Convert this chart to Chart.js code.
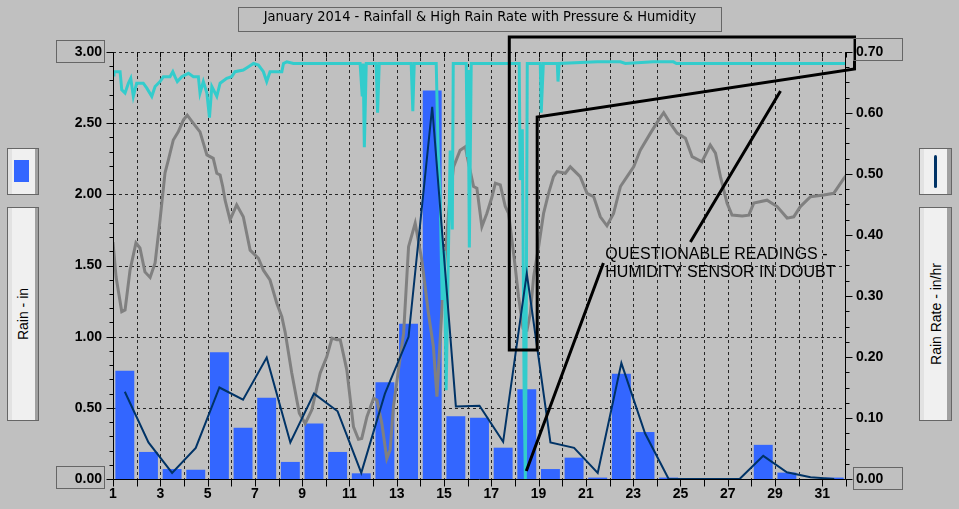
<!DOCTYPE html>
<html>
<head>
<meta charset="utf-8">
<title>January 2014 - Rainfall & High Rain Rate with Pressure & Humidity</title>
<script src="https://cdn.jsdelivr.net/npm/chart.js@4.4.0/dist/chart.umd.min.js"></script>
<style>
  html, body { margin: 0; padding: 0; background: #c0c0c0; overflow: hidden; }
  #wrap { position: relative; width: 959px; height: 509px; }
  #myChart { position: absolute; left: 0; top: 0; }
  .box { position: absolute; box-sizing: border-box; border: 1px solid #666; }
  .title { left: 238px; top: 7px; width: 484px; height: 25px; text-align: center; line-height: 23px;
           font: 14.5px "Liberation Sans Narrow", "DejaVu Sans Condensed", sans-serif; color: #000; }
  .panel { background: linear-gradient(to right, #e2e2e2 0 4px, #f0f0f0 4px 27px, #a0a0a0 27px); }
  .vlabel { position: absolute; left: 50%; top: 50%; transform: translate(-50%, -50%) rotate(-90deg);
            white-space: nowrap; font: 14px "Liberation Sans", Arial, sans-serif; color: #000; }
</style>
</head>
<body>
<div id="wrap">
  <canvas id="myChart" width="959" height="509"></canvas>
  <div class="box title">January 2014 - Rainfall &amp; High Rain Rate with Pressure &amp; Humidity</div>

  <div class="box panel" style="left:7px;top:148px;width:32px;height:47px;">
    <div style="position:absolute;left:6px;top:11px;width:15px;height:22px;background:#3366ff;"></div>
  </div>
  <div class="box panel" style="left:7px;top:207px;width:32px;height:214px;"><div class="vlabel">Rain - in</div></div>

  <div class="box panel" style="left:919px;top:148px;width:33px;height:47px;">
    <div style="position:absolute;left:14px;top:6px;width:3px;height:33px;border-radius:2px;background:#003366;"></div>
  </div>
  <div class="box panel" style="left:919px;top:207px;width:33px;height:214px;"><div class="vlabel">Rain Rate - in/hr</div></div>

  <div class="box" style="left:56px;top:40px;width:49px;height:23px;"></div>
  <div class="box" style="left:56px;top:466px;width:49px;height:23px;"></div>
  <div class="box" style="left:853px;top:38px;width:50px;height:23px;"></div>
  <div class="box" style="left:853px;top:467px;width:50px;height:23px;"></div>
</div>
<script>
// daily rainfall (in) and daily high rain rate (in/hr)
const days = [1,2,3,4,5,6,7,8,9,10,11,12,13,14,15,16,17,18,19,20,21,22,23,24,25,26,27,28,29,30,31];
const rain = [0.76,0.19,0.07,0.065,0.89,0.36,0.57,0.12,0.39,0.19,0.04,0.68,1.09,2.73,0.44,0.43,
              0.22,0.63,0.07,0.15,0.01,0.74,0.33,0.01,0,0,0,0.24,0.045,0,0.01];
const rainRate = [0.143,0.060,0.010,0.051,0.150,0.130,0.199,0.060,0.140,0.111,0.010,0.140,0.233,0.610,0.119,0.120,
                  0.061,0.337,0.060,0.051,0.010,0.190,0.075,0,0,0,0,0.038,0.011,0.003,0];

// humidity (%) as [day, value]
const humidity = [[1.0,55.5],[1.13,47.3],[1.37,39.2],[1.51,39.6],[1.72,48.9],[1.97,55.3],[2.14,54.1],[2.35,48.5],
  [2.57,47.2],[2.78,50.6],[2.99,60.7],[3.20,71.7],[3.34,74.7],[3.55,79.4],[3.76,81.3],[3.98,84.1],[4.14,85.2],
  [4.40,83.3],[4.68,81.3],[4.97,75.9],[5.24,75.1],[5.39,71.6],[5.53,71.2],[5.64,68.5],[5.74,65.3],[5.95,60.7],
  [6.23,64.2],[6.51,61.4],[6.80,53.6],[7.15,51.7],[7.36,48.9],[7.64,46.6],[7.93,41.1],[8.14,38.0],[8.28,34.4],
  [8.56,24.8],[8.88,15.4],[9.13,13.0],[9.41,16.2],[9.76,24.8],[10.04,28.6],[10.26,33.0],[10.47,32.6],[10.61,32.6],
  [10.89,25.5],[11.17,12.2],[11.38,9.3],[11.52,9.5],[11.74,14.6],[12.02,18.9],[12.16,18.5],[12.37,13.0],[12.58,4.8],
  [12.72,6.8],[12.86,16.9],[13.07,25.5],[13.29,34.1],[13.50,54.4],[13.78,59.9],[14.06,51.3],[14.34,38.8],[14.55,31.0],
  [14.70,19.3],[14.98,46.6],[15.19,62.2],[15.40,73.1],[15.68,77.0],[15.90,77.8],[16.04,73.9],[16.25,68.5],[16.39,68.1],
  [16.60,59.1],[16.81,62.2],[17.03,66.1],[17.17,69.3],[17.38,68.9],[17.59,63.8],[17.73,62.2],[17.87,56.0],[18.01,49.7],
  [18.15,42.7],[18.34,35.3],[18.51,34.9],[18.65,38.8],[18.79,47.4],[19.00,54.4],[19.21,62.2],[19.42,66.9],[19.63,70.8],
  [19.78,72.0],[20.13,71.6],[20.34,73.1],[20.76,70.8],[21.05,66.9],[21.33,66.1],[21.61,61.4],[21.89,59.3],[22.17,62.2],
  [22.46,68.5],[22.74,70.8],[23.02,73.1],[23.30,77.0],[23.73,81.0],[24.08,84.1],[24.29,85.8],[24.57,83.3],[24.86,81.0],
  [25.21,79.8],[25.49,75.5],[25.91,74.3],[26.26,78.2],[26.48,76.3],[26.69,70.8],[26.97,64.6],[27.18,61.8],[27.61,61.6],
  [27.89,61.8],[28.10,64.6],[28.66,65.3],[29.09,63.8],[29.51,61.1],[29.79,61.4],[30.07,63.8],[30.50,66.1],[31.06,66.5],
  [31.48,66.9],[31.91,70.4],[32.0,71.0]];

// barometric pressure (inHg) as [day, value]
const pressure = [[1.0,30.46],[1.04,30.48],[1.30,30.48],[1.37,30.37],[1.51,30.35],[1.65,30.41],[1.75,30.44],[1.86,30.33],
  [2.00,30.41],[2.28,30.41],[2.43,30.38],[2.64,30.33],[2.78,30.39],[2.99,30.42],[3.13,30.45],[3.41,30.45],[3.53,30.48],
  [3.62,30.45],[3.72,30.42],[3.91,30.45],[4.19,30.47],[4.40,30.45],[4.61,30.45],[4.68,30.35],[4.82,30.42],[4.97,30.35],
  [5.08,30.20],[5.18,30.39],[5.39,30.33],[5.53,30.41],[5.81,30.44],[6.02,30.45],[6.16,30.48],[6.51,30.49],[6.73,30.51],
  [6.94,30.53],[7.15,30.52],[7.36,30.48],[7.50,30.42],[7.64,30.48],[8.14,30.48],[8.21,30.53],[8.35,30.54],[8.63,30.53],
  [11.45,30.53],[11.54,30.33],[11.58,30.53],[11.63,30.02],[11.71,30.53],[12.13,30.53],[12.19,30.23],[12.26,30.53],
  [13.61,30.53],[13.68,30.24],[13.74,30.53],[14.67,30.53],[14.75,30.00],[14.84,29.70],[14.92,29.09],[15.01,29.39],
  [15.09,28.54],[15.18,29.33],[15.26,30.00],[15.35,29.52],[15.39,30.53],[15.94,30.53],[15.98,29.96],[16.02,30.49],
  [16.07,29.41],[16.15,30.53],[18.18,30.53],[18.22,29.82],[18.31,30.13],[18.39,28.48],[18.44,28.00],[18.48,29.09],
  [18.52,30.53],[19.07,30.53],[19.11,30.23],[19.20,30.53],[19.79,30.53],[19.82,30.42],[19.87,30.53],[21.48,30.54],
  [22.46,30.54],[22.67,30.53],[23.85,30.54],[24.70,30.54],[24.83,30.53],[32.0,30.53]];

const dayTicks = [1,3,5,7,9,11,13,15,17,19,21,23,25,27,29,31];
const rainTicks = [0,0.5,1,1.5,2,2.5,3];
const rateTicks = [0,0.1,0.2,0.3,0.4,0.5,0.6,0.7];

// the "questionable readings" callout, in [day, rain in] units
const notePolygon = [[17.76,3.105],[32.36,3.105],[32.36,2.881],[18.94,2.543],[18.94,0.906],[17.76,0.906]];
const noteLines = [[[18.48,0.056],[21.74,1.518]], [[25.42,1.665],[29.23,2.726]]];
const noteText = [[21.82,1.574,'QUESTIONABLE READINGS -'], [21.82,1.447,'HUMIDITY SENSOR IN DOUBT']];

const tickFont = { family: '"Liberation Sans", Arial, sans-serif', size: 14, weight: 'bold' };

const framePlugin = {
  id: 'frame',
  beforeDatasetsDraw(chart) {
    const { ctx, chartArea: a, scales: { x, y } } = chart;
    ctx.save();
    ctx.strokeStyle = '#262626';
    ctx.lineWidth = 1;
    ctx.setLineDash([3, 3]);
    ctx.beginPath();
    rainTicks.forEach(v => {
      if (v <= 0) return;
      const py = Math.round(y.getPixelForValue(v)) + 0.5;
      ctx.moveTo(a.left, py); ctx.lineTo(a.right, py);
    });
    for (let d = 2; d <= 31; d++) {
      const px = Math.round(x.getPixelForValue(d)) + 0.5;
      ctx.moveTo(px, a.top); ctx.lineTo(px, a.bottom);
    }
    ctx.stroke();
    ctx.restore();
  },
  afterDatasetsDraw(chart) {
    const { ctx, chartArea: a, scales: { x, y, y1 } } = chart;
    const L = Math.floor(a.left) + 0.5, R = Math.floor(a.right) - 0.5, B = Math.floor(a.bottom) + 0.5, T = Math.floor(a.top) + 0.5;
    ctx.save();
    ctx.strokeStyle = '#000';
    ctx.lineWidth = 1;
    ctx.beginPath();
    ctx.moveTo(L, T); ctx.lineTo(L, B); ctx.lineTo(R, B); ctx.lineTo(R, T);
    for (let k = 0; k <= 30; k++) {
      const py = Math.round(y.getPixelForValue(k / 10)) + 0.5;
      ctx.moveTo(L - (k % 5 === 0 ? 7 : 4), py); ctx.lineTo(L, py);
    }
    for (let k = 0; k <= 28; k++) {
      const py = Math.round(y1.getPixelForValue(k * 0.025)) + 0.5;
      ctx.moveTo(R, py); ctx.lineTo(R + (k % 4 === 0 ? 7 : 4), py);
    }
    for (let d = 1; d <= 32; d++) {
      const px = Math.round(x.getPixelForValue(d)) + 0.5;
      ctx.moveTo(px, B); ctx.lineTo(px, B + 7);
      ctx.moveTo(px, T); ctx.lineTo(px, T + 5);
    }
    ctx.stroke();
    ctx.restore();
  }
};

const notePlugin = {
  id: 'notes',
  afterDraw(chart) {
    const { ctx, scales: { x, y } } = chart;
    const P = p => [x.getPixelForValue(p[0]), y.getPixelForValue(p[1])];
    ctx.save();
    ctx.strokeStyle = '#000';
    ctx.lineWidth = 3;
    ctx.lineJoin = 'miter';
    ctx.beginPath();
    notePolygon.forEach((p, i) => { const [px, py] = P(p); if (i) ctx.lineTo(px, py); else ctx.moveTo(px, py); });
    ctx.closePath();
    noteLines.forEach(l => {
      const a = P(l[0]), b = P(l[1]);
      ctx.moveTo(a[0], a[1]); ctx.lineTo(b[0], b[1]);
    });
    ctx.stroke();
    ctx.fillStyle = '#000';
    ctx.font = '16px "Liberation Sans", Arial, sans-serif';
    ctx.textBaseline = 'middle';
    ctx.textAlign = 'left';
    noteText.forEach(t => { const [px, py] = P(t); ctx.fillText(t[2], px, py); });
    ctx.restore();
  }
};

new Chart(document.getElementById('myChart'), {
  type: 'line',
  data: {
    datasets: [
      {
        label: 'High Rain Rate',
        data: days.map((d, i) => ({ x: d + 0.5, y: rainRate[i] })),
        yAxisID: 'y1', borderColor: '#003366', borderWidth: 2, pointRadius: 0, tension: 0, order: 0
      },
      {
        label: 'Pressure',
        data: pressure.map(p => ({ x: p[0], y: p[1] })),
        yAxisID: 'yP', borderColor: '#33cccc', borderWidth: 3, pointRadius: 0, tension: 0, order: 1
      },
      {
        label: 'Humidity',
        data: humidity.map(p => ({ x: p[0], y: p[1] })),
        yAxisID: 'yH', borderColor: '#808080', borderWidth: 3, pointRadius: 0, tension: 0, order: 2
      },
      {
        type: 'bar',
        label: 'Rain',
        data: days.map((d, i) => ({ x: d + 0.5, y: rain[i] })),
        yAxisID: 'y', backgroundColor: '#3366ff', barPercentage: 0.8, categoryPercentage: 1, order: 3
      }
    ]
  },
  options: {
    responsive: false,
    animation: false,
    devicePixelRatio: 1,
    layout: { padding: { top: 52, left: 0, right: 0, bottom: 0 } },
    plugins: { legend: { display: false }, tooltip: { enabled: false } },
    scales: {
      x: {
        type: 'linear', min: 1, max: 32, offset: false,
        afterBuildTicks: s => { s.ticks = dayTicks.map(v => ({ value: v })); },
        afterFit: s => { s.height = 30; },
        ticks: { autoSkip: false, maxRotation: 0, padding: 7, font: tickFont, color: '#000' },
        grid: { display: false, drawTicks: false },
        border: { display: false }
      },
      y: {
        position: 'left', min: 0, max: 3,
        afterBuildTicks: s => { s.ticks = rainTicks.map(v => ({ value: v })); },
        afterFit: s => { s.width = 113; },
        ticks: { padding: 11, font: tickFont, color: '#000', callback: v => Number(v).toFixed(2) },
        grid: { display: false, drawTicks: false },
        border: { display: false }
      },
      y1: {
        position: 'right', min: 0, max: 0.7,
        afterBuildTicks: s => { s.ticks = rateTicks.map(v => ({ value: v })); },
        afterFit: s => { s.width = 113; },
        ticks: { padding: 10, font: tickFont, color: '#000', callback: v => Number(v).toFixed(2) },
        grid: { display: false, drawTicks: false },
        border: { display: false }
      },
      yH: { display: false, min: 0, max: 100 },
      yP: { display: false, min: 28, max: 30.6 }
    }
  },
  plugins: [framePlugin, notePlugin]
});
</script>
</body>
</html>
